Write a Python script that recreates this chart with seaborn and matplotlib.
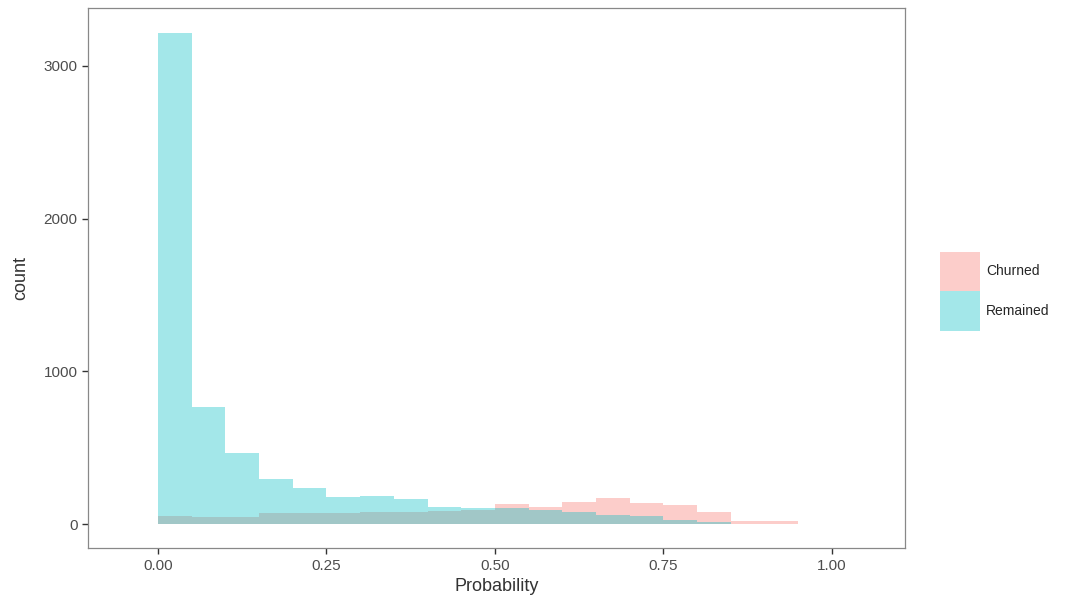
import numpy as np
import pandas as pd
import matplotlib
matplotlib.use("Agg")
import matplotlib.pyplot as plt
import seaborn as sns
from matplotlib.patches import Patch

# bin edges of the histogram (width 0.05)
edges = [round(0.05 * i, 2) for i in range(20)]
centers = [round(0.025 + 0.05 * i, 3) for i in range(19)]

# counts per bin
remained = [3215, 766, 465, 295, 236, 177, 183, 164, 111, 105, 105, 92, 79, 59, 52, 26, 13, 0, 0]
churned = [55, 45, 45, 70, 72, 75, 80, 80, 85, 92, 130, 111, 144, 170, 138, 124, 79, 22, 20]

labels = ["Churned", "Remained"]
colors = ["#F8766D", "#00BFC4"]

sns.set_style("white")
plt.rcParams["font.family"] = ["Liberation Sans", "DejaVu Sans"]

fig = plt.figure(figsize=(10.73, 6.07), dpi=100)
ax = fig.add_axes([0.082, 0.097, 0.761, 0.89])

# churned first, remained drawn over it
for vals, c in [(churned, colors[0]), (remained, colors[1])]:
    sns.histplot(x=centers, weights=vals, bins=edges, color=c,
                 alpha=0.36, linewidth=0, ax=ax)

ax.set_xlim(-0.104, 1.108)
ax.set_ylim(-157, 3380)
ax.set_xticks([0, 0.25, 0.5, 0.75, 1.0])
ax.set_xticklabels(["0.00", "0.25", "0.50", "0.75", "1.00"])
ax.set_yticks([0, 1000, 2000, 3000])
ax.tick_params(axis="both", length=4, width=1, color="#333333",
               labelsize=11, labelcolor="#4D4D4D", direction="out",
               bottom=True, left=True)
ax.set_xlabel("Probability", fontsize=13, color="#333333", labelpad=4)
ax.set_ylabel("count", fontsize=13, color="#333333", labelpad=10)
for s in ax.spines.values():
    s.set_color("#888888")
    s.set_linewidth(0.9)

handles = [Patch(facecolor=c, alpha=0.36, edgecolor="none") for c in colors]
fig.legend(handles, labels, loc="center left", bbox_to_anchor=(0.871, 0.52),
           frameon=False, fontsize=10, handlelength=2.9, handleheight=4.0,
           handletextpad=0.4, labelspacing=0.0, borderaxespad=0)

fig.savefig("out.png", dpi=100)
